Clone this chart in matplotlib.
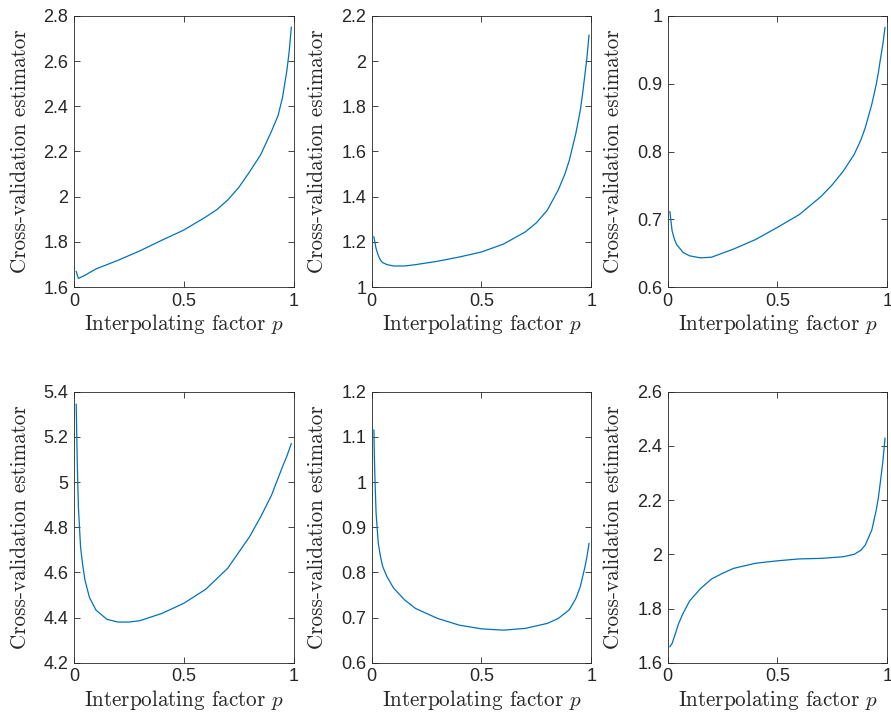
import matplotlib
matplotlib.use("Agg")
import matplotlib.pyplot as plt
from matplotlib.ticker import FuncFormatter

plt.rcParams['mathtext.fontset'] = 'cm'

# ---------------- data ----------------
p1 = [0.01, 0.02, 0.05, 0.1, 0.2, 0.3, 0.4, 0.5, 0.6, 0.65, 0.7, 0.75, 0.8, 0.85, 0.9, 0.93, 0.95, 0.97, 0.98, 0.99]
v1 = [1.669, 1.638, 1.652, 1.680, 1.718, 1.760, 1.807, 1.852, 1.910, 1.942, 1.985, 2.040, 2.110, 2.185, 2.290, 2.360, 2.440, 2.560, 2.640, 2.750]

p2 = [0.01, 0.02, 0.03, 0.04, 0.05, 0.07, 0.1, 0.15, 0.2, 0.3, 0.4, 0.5, 0.6, 0.7, 0.75, 0.8, 0.85, 0.88, 0.9, 0.93, 0.95, 0.96, 0.97, 0.98, 0.99]
v2 = [1.222, 1.170, 1.140, 1.118, 1.108, 1.099, 1.093, 1.093, 1.099, 1.114, 1.133, 1.155, 1.190, 1.244, 1.284, 1.340, 1.430, 1.500, 1.560, 1.680, 1.780, 1.850, 1.930, 2.010, 2.115]

p3 = [0.01, 0.02, 0.03, 0.04, 0.07, 0.1, 0.15, 0.2, 0.3, 0.4, 0.5, 0.6, 0.7, 0.75, 0.8, 0.85, 0.88, 0.9, 0.93, 0.95, 0.96, 0.97, 0.98, 0.99]
v3 = [0.711, 0.683, 0.671, 0.663, 0.651, 0.646, 0.643, 0.644, 0.656, 0.670, 0.688, 0.707, 0.734, 0.751, 0.771, 0.796, 0.817, 0.835, 0.870, 0.899, 0.917, 0.938, 0.958, 0.983]

p4 = [0.01, 0.012, 0.015, 0.02, 0.03, 0.04, 0.05, 0.07, 0.1, 0.15, 0.2, 0.25, 0.3, 0.4, 0.5, 0.6, 0.7, 0.8, 0.85, 0.9, 0.95, 0.97, 0.99]
v4 = [5.344, 5.240, 5.080, 4.890, 4.710, 4.630, 4.566, 4.490, 4.433, 4.392, 4.380, 4.380, 4.386, 4.418, 4.463, 4.525, 4.618, 4.758, 4.845, 4.942, 5.068, 5.115, 5.170]

p5 = [0.01, 0.012, 0.015, 0.02, 0.03, 0.04, 0.05, 0.07, 0.1, 0.15, 0.2, 0.3, 0.4, 0.5, 0.6, 0.7, 0.8, 0.85, 0.9, 0.93, 0.95, 0.97, 0.98, 0.99]
v5 = [1.115, 1.060, 1.004, 0.931, 0.864, 0.835, 0.813, 0.790, 0.765, 0.739, 0.720, 0.698, 0.683, 0.675, 0.672, 0.676, 0.687, 0.698, 0.717, 0.742, 0.768, 0.809, 0.833, 0.864]

p6 = [0.01, 0.02, 0.03, 0.04, 0.05, 0.07, 0.1, 0.15, 0.2, 0.25, 0.3, 0.4, 0.5, 0.6, 0.7, 0.8, 0.85, 0.88, 0.9, 0.93, 0.95, 0.96, 0.97, 0.98, 0.99]
v6 = [1.659, 1.671, 1.695, 1.720, 1.745, 1.782, 1.828, 1.874, 1.909, 1.930, 1.948, 1.967, 1.976, 1.983, 1.985, 1.991, 2.000, 2.015, 2.034, 2.090, 2.163, 2.210, 2.274, 2.340, 2.428]

ylims = [(1.6, 2.8), (1.0, 2.2), (0.6, 1.0), (4.2, 5.4), (0.6, 1.2), (1.6, 2.6)]
ysteps = [0.2, 0.2, 0.1, 0.2, 0.1, 0.2]
xticks = [0, 0.5, 1]

xlabel = "Interpolating factor $p$"
ylabel = "Cross-validation estimator"

series = [(p1, v1), (p2, v2), (p3, v3), (p4, v4), (p5, v5), (p6, v6)]

# ---------------- figure ----------------
W, H = 891, 724
fig = plt.figure(figsize=(W / 100, H / 100), dpi=100)

lefts = [74, 371.7, 667.7]
tops = [16, 391.7]
aw, ah = 219.5, 271

axcol = '#262626'
for i, (px, vy) in enumerate(series):
    r, c = divmod(i, 3)
    ax = fig.add_axes([lefts[c] / W, 1 - (tops[r] + ah) / H, aw / W, ah / H])
    ax.plot(px, vy, color='#0072BD', lw=0.9)
    ax.set_xlim(0, 1)
    lo, hi = ylims[i]
    ax.set_ylim(lo, hi)
    n = int(round((hi - lo) / ysteps[i]))
    ax.set_yticks([lo + k * ysteps[i] for k in range(n + 1)])
    ax.set_xticks(xticks)
    fmt = FuncFormatter(lambda v, pos: ('%g' % round(v, 6)))
    ax.xaxis.set_major_formatter(fmt)
    ax.yaxis.set_major_formatter(fmt)
    ax.tick_params(direction='in', length=4, width=0.6, colors=axcol,
                   top=True, right=True, labelsize=13, pad=4)
    for lab in ax.get_xticklabels() + ax.get_yticklabels():
        lab.set_family('Liberation Sans')
    for s in ax.spines.values():
        s.set_color(axcol)
        s.set_linewidth(0.6)
    ax.set_xlabel(xlabel, family='cmr10', fontsize=15.2, color=axcol, labelpad=2)
    ax.set_ylabel(ylabel, family='cmr10', fontsize=15.2, color=axcol, labelpad=10)

fig.savefig('out.png', dpi=100)
